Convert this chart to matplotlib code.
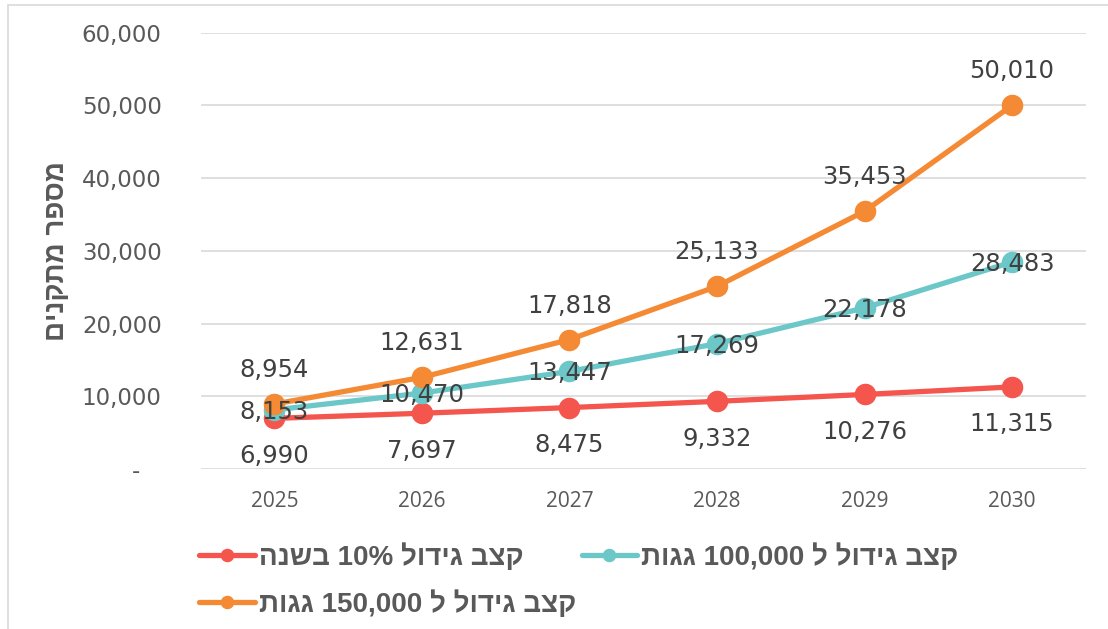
import matplotlib.pyplot as plt
from matplotlib.patches import Rectangle
from matplotlib.ticker import FuncFormatter

years = ['2025', '2026', '2027', '2028', '2029', '2030']
growth_10pct = [6990, 7697, 8475, 9332, 10276, 11315]
growth_100k = [8153, 10470, 13447, 17269, 22178, 28483]
growth_150k = [8954, 12631, 17818, 25133, 35453, 50010]

# hebrew strings are written in visual (left-to-right) order since matplotlib has no bidi
names = ['הנשב 10% לודיג בצק', 'תוגג 100,000 ל לודיג בצק', 'תוגג 150,000 ל לודיג בצק']
ylabel = 'םינקתמ רפסמ'

colors = ['#F4564E', '#6CC8C8', '#F58A34']
label_offsets = [-27, -1.5, 24.5]
txt_gray = '#595959'
lbl_gray = '#404040'

plt.rcParams['font.family'] = ['DejaVu Sans', 'Liberation Sans']

fig = plt.figure(figsize=(11.08, 6.29), dpi=100)
ax = fig.add_axes([0.181, 0.254, 0.799, 0.694])

x = list(range(len(years)))
series = [growth_10pct, growth_100k, growth_150k]
handles = []
for i, vals in enumerate(series):
    h, = ax.plot(x, vals, color=colors[i], lw=3.8, marker='o', ms=14.5,
                 label=names[i], zorder=3 + i, solid_capstyle='round')
    handles.append(h)
    for xi, v in zip(x, vals):
        ax.annotate(f'{v:,}', (xi, v), xytext=(0, label_offsets[i]),
                    textcoords='offset points', ha='center', va='center',
                    fontsize=17.5, color=lbl_gray, zorder=10)

ax.set_xlim(-0.5, len(years) - 0.5)
ax.set_ylim(0, 60000)
ax.set_yticks(range(0, 60001, 10000))
ax.yaxis.set_major_formatter(FuncFormatter(lambda v, p: '-   ' if v == 0 else f'{int(v):,}'))
ax.set_xticks(x)
ax.set_xticklabels(years, family='Open Sans', fontsize=15, color=txt_gray)
ax.tick_params(axis='y', length=0, pad=28, labelsize=16.5, labelcolor=txt_gray)
ax.tick_params(axis='x', length=0, pad=16)
ax.grid(axis='y', color='#D9D9D9', lw=1.2)
ax.set_axisbelow(True)
for s in ax.spines.values():
    s.set_visible(False)

ax.set_ylabel(ylabel, fontsize=20, fontweight='bold', color=txt_gray,
              family=['Liberation Sans', 'DejaVu Sans'])
ax.yaxis.set_label_coords(-0.148, 0.5)

# order so rows read: 10%, 100k / 150k
order = [0, 2, 1]
leg = ax.legend([handles[k] for k in order], [names[k] for k in order],
                loc='upper left', bbox_to_anchor=(-0.03, -0.112),
                bbox_transform=ax.transAxes, ncol=2, frameon=False,
                prop={'family': ['Liberation Sans', 'DejaVu Sans'], 'size': 20, 'weight': 'bold'},
                handlelength=2.0, handletextpad=0.15, columnspacing=0.2,
                labelspacing=0.7, markerscale=0.6)
for t in leg.get_texts():
    t.set_color(txt_gray)

fig.patches.append(Rectangle((0.007, -0.1), 1.2, 1.092, transform=fig.transFigure,
                             fill=False, edgecolor='#D9D9D9', lw=1.2))

fig.savefig('out.png', dpi=100)
